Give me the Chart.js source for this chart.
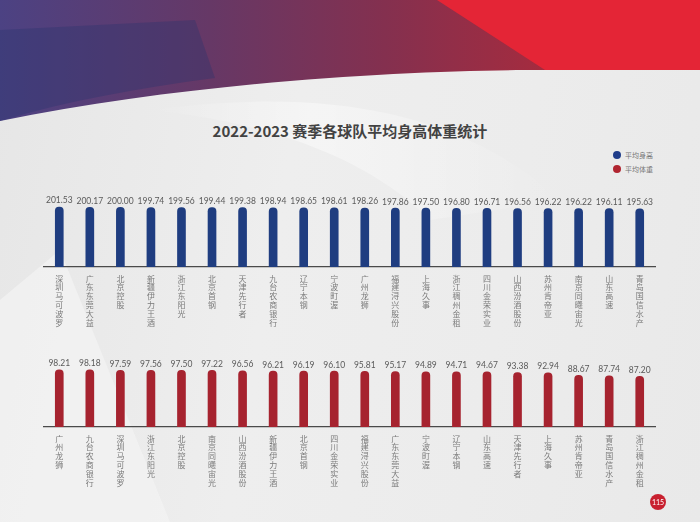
<!DOCTYPE html>
<html>
<head>
<meta charset="utf-8">
<script src="https://cdn.jsdelivr.net/npm/chart.js@4"></script>
<style>
    html, body { margin: 0; padding: 0; }
    body {
        width: 700px; height: 522px; position: relative; overflow: hidden;
        background: linear-gradient(100deg, #e6e6e6 0%, #eeeeee 40%, #ececec 70%, #e9e9e9 100%);
        font-family: "Noto Sans CJK SC", "Noto Sans", sans-serif;
    }
    #bg { position: absolute; left: 0; top: 0; }
    .title {
        position: absolute; left: 0; width: 700px; top: 120px; text-align: center;
        font-size: 15px; font-weight: bold; color: #424242;
    }
    .legend { position: absolute; left: 613px; font-size: 7px; color: #777; line-height: 10px; }
    .legend i { display: inline-block; width: 8px; height: 8px; border-radius: 50%; vertical-align: -1px; margin-right: 4px; }
    .box { position: absolute; left: 0; width: 700px; }
    .page {
        position: absolute; left: 650px; top: 494px; width: 16px; height: 16px; border-radius: 50%;
        background: #c8202f; color: #fff; font: 7px Lato, sans-serif; line-height: 16px; text-align: center;
    }
</style>
</head>
<body>
<svg id="bg" width="700" height="522">
    <defs>
        <linearGradient id="band" x1="0" y1="0" x2="1" y2="0">
            <stop offset="0" stop-color="#4c4283"/>
            <stop offset="0.3" stop-color="#663866"/>
            <stop offset="0.55" stop-color="#84304f"/>
            <stop offset="0.8" stop-color="#a82b3d"/>
        </linearGradient>
        <linearGradient id="shine" x1="0" y1="0" x2="1" y2="0">
            <stop offset="0" stop-color="#ffffff" stop-opacity="0"/>
            <stop offset="0.4" stop-color="#ffffff" stop-opacity="0.7"/>
            <stop offset="1" stop-color="#ffffff" stop-opacity="0"/>
        </linearGradient>
    </defs>
    <path d="M150,110 C300,90 450,100 560,200 L430,220 C360,150 250,120 150,110 Z" fill="url(#shine)" opacity="0.6"/>
    <path d="M0,300 L60,250 L170,522 L0,522 Z" fill="#f4f4f4" opacity="0.7"/>
    <path d="M0,0 H700 V70 H540 C420,70 200,80 0,121 Z" fill="url(#band)"/>
    <path d="M0,30 L195,20 L215,78 C140,88 70,100 0,121 Z" fill="#27356e" opacity="0.35"/>
    <path d="M437,0 H700 V70 H545 Z" fill="#e42536"/>
</svg>

<div class="title">2022-2023 赛季各球队平均身高体重统计</div>
<div class="legend" style="top:150px"><i style="background:#1f3d8a"></i>平均身高</div>
<div class="legend" style="top:164px"><i style="background:#b02530"></i>平均体重</div>

<div class="box" style="top:180px;height:157px"><canvas id="heightChart"></canvas></div>
<div class="box" style="top:340px;height:157px"><canvas id="weightChart"></canvas></div>
<div class="page">115</div>

<script>
const heightTeams = ['深圳马可波罗', '广东东莞大益', '北京控股', '新疆伊力王酒', '浙江东阳光', '北京首钢', '天津先行者',
    '九台农商银行', '辽宁本钢', '宁波町渥', '广州龙狮', '福建浔兴股份', '上海久事', '浙江稠州金租', '四川金荣实业',
    '山西汾酒股份', '苏州肯帝亚', '南京同曦宙光', '山东高速', '青岛国信水产'];
const heightValues = [201.53, 200.17, 200.00, 199.74, 199.56, 199.44, 199.38, 198.94, 198.65, 198.61,
    198.26, 197.86, 197.50, 196.80, 196.71, 196.56, 196.22, 196.22, 196.11, 195.63];

const weightTeams = ['广州龙狮', '九台农商银行', '深圳马可波罗', '浙江东阳光', '北京控股', '南京同曦宙光', '山西汾酒股份',
    '新疆伊力王酒', '北京首钢', '四川金荣实业', '福建浔兴股份', '广东东莞大益', '宁波町渥', '辽宁本钢', '山东高速',
    '天津先行者', '上海久事', '苏州肯帝亚', '青岛国信水产', '浙江稠州金租'];
const weightValues = [98.21, 98.18, 97.59, 97.56, 97.50, 97.22, 96.56, 96.21, 96.19, 96.10,
    95.81, 95.17, 94.89, 94.71, 94.67, 93.38, 92.94, 88.67, 87.74, 87.20];

document.addEventListener('DOMContentLoaded', () => {
    initBarChart('heightChart', heightTeams, heightValues, '#1f3d80', 225, 20);
    initBarChart('weightChart', weightTeams, weightValues, '#a6232f', 110, 23);
});

const valueLabels = {
    id: 'valueLabels',
    afterDatasetsDraw(chart) {
        const ctx = chart.ctx;
        const meta = chart.getDatasetMeta(0);
        const values = chart.data.datasets[0].data;
        ctx.save();
        ctx.font = '8.5px Lato, sans-serif';
        ctx.fillStyle = '#5a5a5a';
        ctx.textAlign = 'center';
        ctx.textBaseline = 'bottom';
        meta.data.forEach((bar, i) => {
            ctx.fillText(values[i].toFixed(2), bar.x, bar.y - 2);
        });
        ctx.restore();
    }
};

function initBarChart(id, labels, values, color, max, padTop) {
    const ctx = document.getElementById(id).getContext('2d');

    new Chart(ctx, {
        type: 'bar',
        data: {
            labels: labels,
            datasets: [{
                data: values,
                backgroundColor: color,
                barThickness: 8,
                borderRadius: { topLeft: 4, topRight: 4, bottomLeft: 0, bottomRight: 0 },
                borderSkipped: 'bottom'
            }]
        },
        options: {
            responsive: true,
            maintainAspectRatio: false,
            animation: false,
            layout: { padding: { left: 44, right: 45, top: padTop, bottom: 0 } },
            plugins: {
                legend: { display: false },
                tooltip: { enabled: false }
            },
            scales: {
                x: {
                    afterFit: s => { s.height = 70; },
                    grid: { display: true, drawOnChartArea: false, drawTicks: false, color: 'transparent' },
                    border: { display: true, color: '#4a4a4a', width: 1.3 },
                    ticks: {
                        autoSkip: false,
                        maxRotation: 0,
                        padding: 7,
                        color: '#7a7a7a',
                        font: { size: 8, family: '"Noto Sans CJK SC", sans-serif', lineHeight: 1.12 },
                        callback: function (v) { return this.getLabelForValue(v).split(''); }
                    }
                },
                y: {
                    display: false,
                    min: 0,
                    max: max
                }
            }
        },
        plugins: [valueLabels]
    });
}
</script>
</body>
</html>
